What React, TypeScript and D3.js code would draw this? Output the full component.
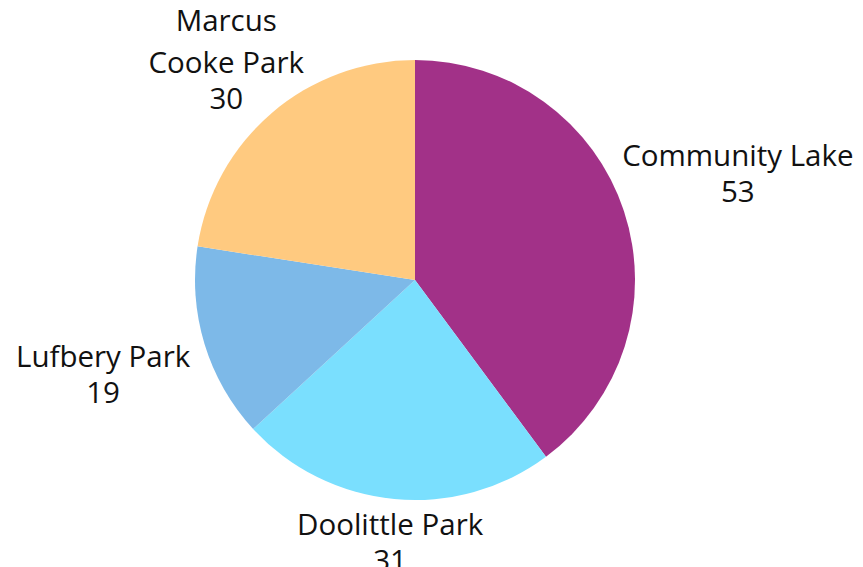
import React from "react";
import * as d3 from "d3";

const categories = ["Community Lake", "Doolittle Park", "Lufbery Park", "Marcus Cooke Park"];
const values = [53, 31, 19, 30];
const labelLines = [["Community Lake"], ["Doolittle Park"], ["Lufbery Park"], ["Marcus", "Cooke Park"]];
const colors = ["#A23188", "#7ADFFE", "#7DB9E8", "#FFCA80"];

const W = 863;
const H = 567;
const cx = 415;
const cy = 280;
const R = 220;
const labelR = [340, 264, 326, 290];
const extraGap = [0, 0, 0, 6];
const fontSize = 29.5;
const lineH = 36;

export default function App() {
  const pie = d3.pie<number>().sort(null).value((d) => d)(values);
  const arc = d3.arc<d3.PieArcDatum<number>>().innerRadius(0).outerRadius(R);
  return (
    <svg width={W} height={H} style={{ position: "absolute", left: 0, top: 0 }}>
      <rect width={W} height={H} fill="#fff" />
      <g transform={`translate(${cx},${cy})`}>
        {pie.map((p, i) => (
          <path key={i} d={arc(p) || ""} fill={colors[i]} />
        ))}
        {pie.map((p, i) => {
          const a = (p.startAngle + p.endAngle) / 2;
          const x = Math.sin(a) * labelR[i];
          const y = -Math.cos(a) * labelR[i];
          const lines = [...labelLines[i], String(values[i])];
          const n = lines.length;
          const total = (n - 1) * lineH + extraGap[i];
          const y0 = y - total / 2;
          return (
            <text key={i} x={x} textAnchor="middle" fontFamily="'Open Sans', sans-serif" fontSize={fontSize} fill="#111">
              {lines.map((l, j) => (
                <tspan key={j} x={x} y={y0 + j * lineH + (j > 0 ? extraGap[i] : 0)} dy="0.35em">{l}</tspan>
              ))}
            </text>
          );
        })}
      </g>
    </svg>
  );
}
